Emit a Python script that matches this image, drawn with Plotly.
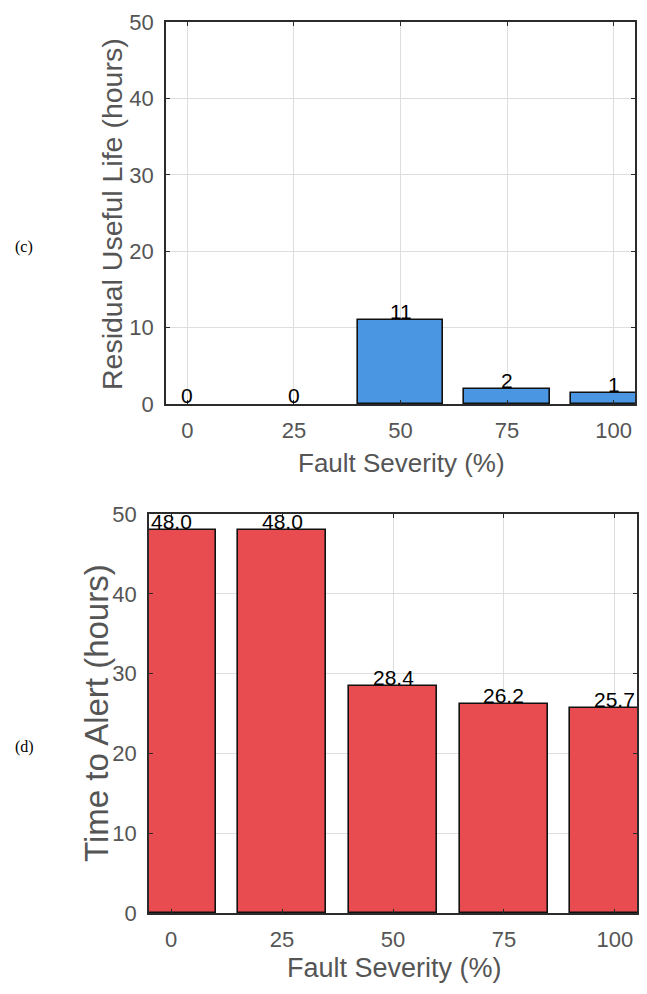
import plotly.graph_objects as go

severity = [0, 25, 50, 75, 100]
rul_values = [0, 0, 11, 2, 1.4]
rul_labels = ["0", "0", "11", "2", "1"]
alert_values = [48.0, 48.0, 28.4, 26.2, 25.7]
alert_labels = ["48.0", "48.0", "28.4", "26.2", "25.7"]
x_ticks = [0, 25, 50, 75, 100]
y_ticks = [0, 10, 20, 30, 40, 50]

W, H = 647, 994
BLUE = "#4a96e2"
RED = "#e84c50"
AX = "#2b2b2b"
TXT = "#555555"
FONT = "Liberation Sans, Arial, sans-serif"

def px(x):
    return x / W

def py(y):
    return 1 - y / H

fig = go.Figure()
fig.add_trace(go.Bar(x=severity, y=rul_values, width=20, xaxis="x", yaxis="y",
                     marker=dict(color=BLUE,
                                 line=dict(color="#111111",
                                           width=[1.6 if v > 0 else 0 for v in rul_values])),
                     showlegend=False, hoverinfo="x+y"))
fig.add_trace(go.Bar(x=severity, y=alert_values, width=20, xaxis="x2", yaxis="y2",
                     marker=dict(color=RED, line=dict(color="#111111", width=1.6)),
                     showlegend=False, hoverinfo="x+y"))

axis_common = dict(showline=True, linecolor=AX, linewidth=1.6, mirror="ticks",
                   ticks="inside", ticklen=4, tickwidth=1.2, tickcolor=AX,
                   showgrid=True, gridcolor="#dedede", gridwidth=1, zeroline=False,
                   automargin=False,
                   tickfont=dict(family=FONT, size=22, color=TXT))

fig.update_layout(
    template="none",
    width=W, height=H, margin=dict(l=0, r=0, t=0, b=0, pad=0),
    paper_bgcolor="white", plot_bgcolor="white", bargap=0,
    xaxis=dict(domain=[px(166), px(635)], range=[-5, 105], tickvals=x_ticks,
               anchor="y", ticklabelstandoff=6, **axis_common),
    yaxis=dict(domain=[py(404), py(22)], range=[0, 50], tickvals=y_ticks,
               anchor="x", ticklabelstandoff=6, **axis_common),
    xaxis2=dict(domain=[px(149), px(637)], range=[-5, 105], tickvals=x_ticks,
                anchor="y2", ticklabelstandoff=6, **axis_common),
    yaxis2=dict(domain=[py(913), py(514)], range=[0, 50], tickvals=y_ticks,
                anchor="x2", ticklabelstandoff=6, **axis_common),
)

ann = []
for xv, yv, t in zip(severity, rul_values, rul_labels):
    ann.append(dict(x=xv, y=yv, xref="x", yref="y", text=t, showarrow=False,
                    xanchor="center", yanchor="bottom", yshift=-5,
                    font=dict(family=FONT, size=21, color="black")))
for xv, yv, t in zip(severity, alert_values, alert_labels):
    ann.append(dict(x=xv, y=yv, xref="x2", yref="y2", text=t, showarrow=False,
                    xanchor="center", yanchor="bottom", yshift=-5,
                    font=dict(family=FONT, size=21, color="black")))

serif = dict(family="Liberation Serif, Times New Roman, serif", size=16, color="black")

def label(x, y, text, size, angle=0, font=None):
    return dict(x=px(x), y=py(y), xref="paper", yref="paper", text=text,
                textangle=angle, showarrow=False, xanchor="center", yanchor="middle",
                font=font or dict(family=FONT, size=size, color=TXT))

ann += [
    label(112, 214, "Residual Useful Life (hours)", 28.5, -90),
    label(401, 463, "Fault Severity (%)", 26),
    label(96, 713, "Time to Alert (hours)", 33, -90),
    label(394, 968, "Fault Severity (%)", 27),
    label(24, 247, "(c)", 16, font=serif),
    label(24, 747, "(d)", 16, font=serif),
]
fig.update_layout(annotations=ann)

fig.write_html("out.html", config={"displayModeBar": False},
               post_script="document.body.style.margin='0';document.body.style.overflow='hidden';")
